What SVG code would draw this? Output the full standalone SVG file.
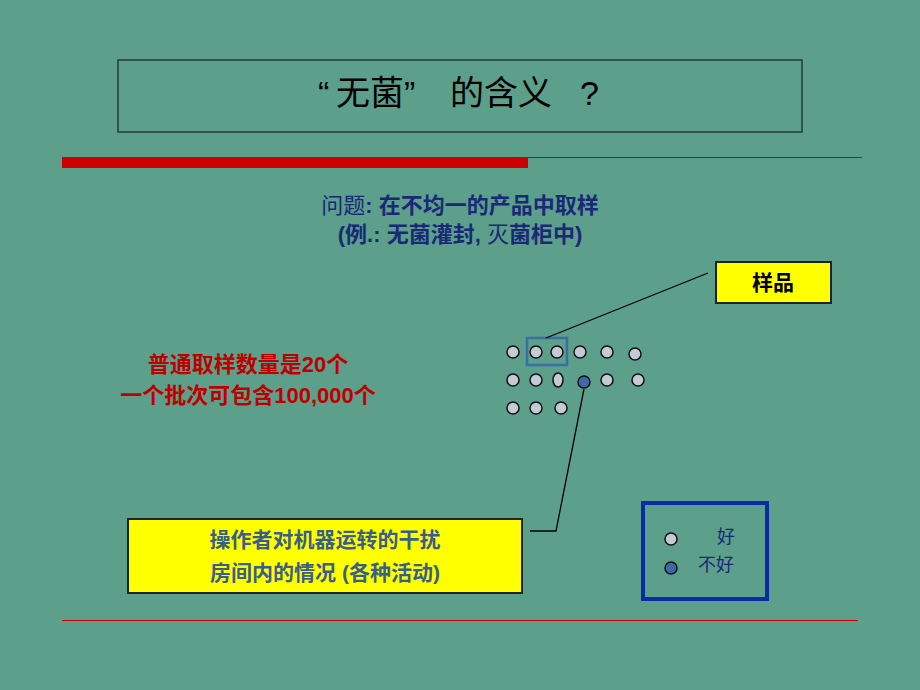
<svg xmlns="http://www.w3.org/2000/svg" width="920" height="690" viewBox="0 0 920 690">
<style>
.cjk{font-family:"Liberation Sans","Noto Sans CJK SC",sans-serif}
.dot{fill:#c6cad6;stroke:#111;stroke-width:1.5}
.bad{fill:#3d6aa6;stroke:#111;stroke-width:1.5}
.ybox{fill:#ffff00;stroke:#222;stroke-width:2}
</style>
<rect width="920" height="690" fill="#5c9f8a"/>
<g id="title">
<rect x="118" y="60" width="684" height="72" fill="none" stroke="#1f3a33" stroke-width="1.5"/>
<text y="105" class="cjk" font-size="34" fill="#000"><tspan x="318">“</tspan><tspan x="336">无菌</tspan><tspan x="404">”</tspan><tspan x="450">的含义</tspan><tspan x="580">?</tspan></text>
</g>
<g id="rules">
<rect x="62" y="157" width="466" height="11" fill="#cc0000"/>
<line x1="528" y1="157.5" x2="862" y2="157.5" stroke="#cc0000" stroke-width="1.2"/>
<line x1="62" y1="620.5" x2="858" y2="620.5" stroke="#cc0000" stroke-width="1.2"/>
</g>
<g id="question" class="cjk" fill="#1a2878" font-size="22" text-anchor="middle">
<text x="460" y="213"><tspan font-weight="normal">问题</tspan><tspan font-weight="bold">: 在不均一的产品中取样</tspan></text>
<text x="460" y="242"><tspan font-weight="bold">(例.: 无菌灌封, </tspan><tspan>灭</tspan><tspan font-weight="bold">菌柜中)</tspan></text>
</g>
<g id="counts" class="cjk" fill="#c00000" font-size="22" font-weight="bold" text-anchor="middle">
<text x="248" y="372">普通取样数量是20个</text>
<text x="248" y="403">一个批次可包含100,000个</text>
</g>
<g id="samples">
<circle class="dot" cx="513" cy="352" r="6"/>
<circle class="dot" cx="536" cy="352" r="6"/>
<circle class="dot" cx="557" cy="352" r="6"/>
<circle class="dot" cx="580" cy="352" r="6"/>
<circle class="dot" cx="607" cy="352" r="6"/>
<circle class="dot" cx="635" cy="354" r="6"/>
<circle class="dot" cx="513" cy="380" r="6"/>
<circle class="dot" cx="536" cy="380" r="6"/>
<ellipse class="dot" cx="558" cy="380" rx="5" ry="7"/>
<circle class="bad" cx="584" cy="382" r="6"/>
<circle class="dot" cx="607" cy="380" r="6"/>
<circle class="dot" cx="638" cy="380" r="6"/>
<circle class="dot" cx="513" cy="408" r="6"/>
<circle class="dot" cx="536" cy="408" r="6"/>
<circle class="dot" cx="561" cy="408" r="6"/>
<rect x="527" y="338" width="40" height="27" fill="none" stroke="#3a6ea5" stroke-width="2.5"/>
</g>
<g id="connectors" fill="none" stroke="#000" stroke-width="1.3">
<line x1="546" y1="338" x2="708" y2="273"/>
<polyline points="584,389 556,531 530,531"/>
</g>
<g id="sample-label">
<rect class="ybox" x="716" y="262" width="115" height="41"/>
<text x="773" y="290" text-anchor="middle" class="cjk" font-size="21" font-weight="bold" fill="#000">样品</text>
</g>
<g id="causes">
<rect class="ybox" x="128" y="519" width="394" height="74"/>
<g class="cjk" fill="#3a5e8c" font-size="21" font-weight="bold" text-anchor="middle">
<text x="325" y="547">操作者对机器运转的干扰</text>
<text x="325" y="580">房间内的情况 (各种活动)</text>
</g>
</g>
<g id="legend">
<rect x="643" y="503" width="124" height="96" fill="none" stroke="#0a2aa6" stroke-width="4"/>
<circle class="dot" cx="671" cy="539" r="6"/>
<circle class="bad" cx="671" cy="568" r="6"/>
<g class="cjk" fill="#1a2878" font-size="18">
<text x="717" y="543">好</text>
<text x="698" y="571">不好</text>
</g>
</g>
</svg>
